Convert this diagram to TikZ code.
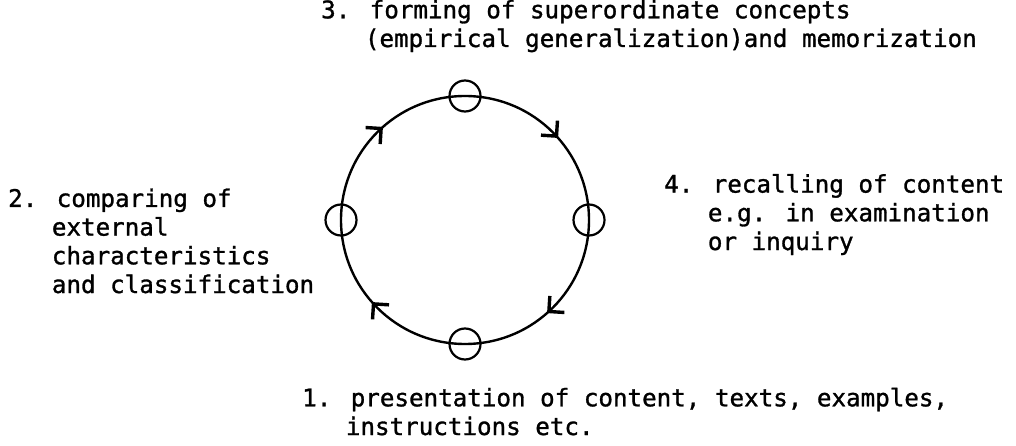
\documentclass[tikz,border=0pt]{standalone}
\usepackage{fontspec}
\newfontfamily\typew{DejaVu Sans Mono}[BoldFont={DejaVu Sans Mono},BoldFeatures={FakeBold=1.2}]
\usetikzlibrary{arrows.meta,decorations.markings}
\newcommand\indt{\hspace*{3\fontcharwd\font`0}}
\begin{document}
\begin{tikzpicture}[x=1pt,y=-1pt,
  lbl/.style={inner sep=0pt, anchor=base west, align=left,
    font=\typew\bfseries\fontsize{24.2}{28.7}\selectfont},
  ring/.style={line width=2.4pt},
  stage/.style={circle, draw, line width=2.2pt, minimum size=31pt, inner sep=0pt},
  flow/.style={ring, postaction={decorate}, decoration={markings,
    mark=at position 0.54 with {\arrow{Straight Barb[length=11pt,width=22pt,line width=3.4pt]}}}}]
\useasboundingbox (0,0) rectangle (1016,446);
% stages on the ring (centre 465,220; radius 124)
\node[stage] (s1) at (465,344) {};
\node[stage] (s2) at (341,220) {};
\node[stage] (s3) at (465,96) {};
\node[stage] (s4) at (589,220) {};
% ring arcs with arrows
\draw[flow] (s1.center) to[bend left=45] (s2.center);
\draw[flow] (s2.center) to[bend left=45] (s3.center);
\draw[flow] (s3.center) to[bend left=45] (s4.center);
\draw[flow] (s4.center) to[bend left=45] (s1.center);
% labels (anchor = baseline of the last line)
\node[lbl] (l3) at (321,47) {3. forming of superordinate concepts\\\indt(empirical generalization)and memorization};
\node[lbl] (l2) at (8,293) {2. comparing of\\\indt external\\\indt characteristics\\\indt and classification};
\node[lbl] (l4) at (664,250) {4. recalling of content\\\indt e.g. in examination\\\indt or inquiry};
\node[lbl] (l1) at (302,435) {1. presentation of content, texts, examples,\\\indt instructions etc.};
\end{tikzpicture}
\end{document}
